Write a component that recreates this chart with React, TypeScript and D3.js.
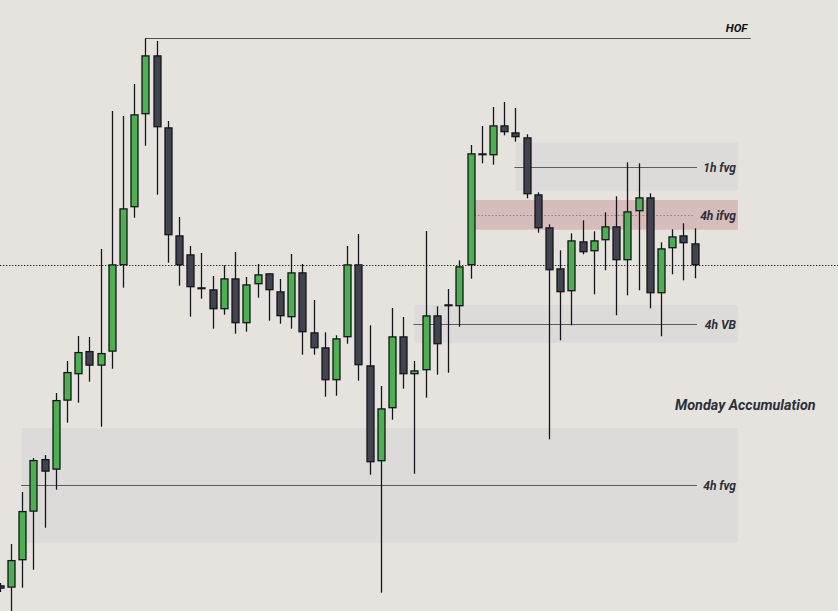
import React from "react";
import * as d3 from "d3";

// OHLC candles (index -1 is partially visible at the left edge)
const startIndex = -1;
const opens = [64147,64123,64397,64883,65410,65303,65993,66257,66490,66343,66483,67347,67927,68857,69447,68727,67647,67457,67127,67107,66907,67217,66767,67157,67267,67087,66827,67277,66677,66527,66197,66627,67357,66347,65387,65917,66637,66257,66297,66847,66957,66937,67347,68467,68447,68747,68677,68627,68057,67727,67317,67087,67587,67487,67597,67737,67397,67887,68027,67067,67517,67647,67567];
const highs = [64170,64560,65080,65420,65450,66070,66390,66640,66630,67510,68890,68840,69160,69617,69590,68790,67830,67540,67470,67240,67347,67480,67230,67360,67267,67210,67460,67360,67000,66677,66647,67540,67660,66747,66140,66920,66830,66390,67690,66937,67110,67397,68550,68740,68930,68980,68920,68657,68077,67757,67497,67667,67797,67687,67877,68037,68377,68367,68067,67577,67707,67767,67717];
const lows = [64080,63850,64123,64303,64723,65103,65773,65973,66183,65733,66313,67123,67823,68543,68053,67373,67143,66833,67013,66713,66853,66663,66683,67023,66793,66763,66713,66453,66453,66033,66043,66563,66193,65253,64073,65803,66113,65263,66023,66253,66273,66733,67213,68367,68353,68647,68583,68017,67673,65607,66597,66747,67457,67057,67297,66847,67047,67097,66917,66637,67257,67197,67217];
const closes = [64113,64400,64890,65400,65283,66000,66280,66480,66343,66470,67357,67917,68857,69447,68727,67647,67347,67127,67127,66907,67217,66767,67157,67257,67097,66837,67277,66677,66517,66197,66617,67357,66347,65377,65917,66637,66257,66297,66847,66557,66937,67337,68467,68447,68747,68677,68627,68057,67717,67297,67077,67597,67477,67597,67737,67397,67887,68027,67067,67517,67637,67567,67347];

// Reference levels
const hofLevel = 69617;
const hofStart = 12;
const hofEnd = 66;
const midLevel = 67347;

// Zones: label, top, bottom, mid, start index
const zoneLabels = ["1h fvg", "4h ifvg", "4h VB", "4h fvg"];
const zoneTops = [68573, 68000, 66950, 65720];
const zoneBottoms = [68093, 67703, 66573, 64573];
const zoneMids = [68327, 67847, 66757, 65150];
const zoneStarts = [45, 41.35, 36, 1];
const zoneEnd = 64.85;
const zoneLineEnd = [61.2, 61.0, 61.2, 61.2];

const W = 838;
const H = 611;

export default function App() {
  const x = d3.scaleLinear().domain([0, 61]).range([10.9, 694.7]);
  const y = d3.scaleLinear().domain([63890, 70000]).range([611, 0]);
  const candles = opens.map((o, k) => ({
    i: startIndex + k,
    o,
    h: highs[k],
    l: lows[k],
    c: closes[k],
  }));
  const bodyW = 7;
  const green = "#4caf50";
  const dark = "#41434e";
  const font = "Roboto, 'Noto Sans', sans-serif";
  const zoneFill = ["#dcdbd9", "#d6bdbb", "#dcdbd9", "#dcdbd9"];
  return (
    <svg
      width={W}
      height={H}
      style={{ position: "fixed", left: 0, top: 0, background: "#e6e3df" }}
    >
      <rect x={0} y={0} width={W} height={H} fill="#e6e3df" />
      {zoneLabels.map((lab, z) => (
        <rect
          key={"zb" + z}
          x={x(zoneStarts[z])}
          y={y(zoneTops[z])}
          width={x(zoneEnd) - x(zoneStarts[z])}
          height={y(zoneBottoms[z]) - y(zoneTops[z])}
          fill={zoneFill[z]}
        />
      ))}
      {zoneLabels.map((lab, z) => (
        <line
          key={"zl" + z}
          x1={x(zoneStarts[z]) - (z === 1 ? 0 : 1)}
          x2={x(zoneLineEnd[z])}
          y1={Math.round(y(zoneMids[z])) + 0.5}
          y2={Math.round(y(zoneMids[z])) + 0.5}
          stroke={z === 1 ? "#8d7f7f" : "#5c5c64"}
          strokeWidth={1}
          strokeDasharray={z === 1 ? "1.5 2" : undefined}
        />
      ))}
      {zoneLabels.map((lab, z) => (
        <text
          key={"zt" + z}
          x={736}
          y={y(zoneMids[z]) + 4.5}
          textAnchor="end"
          fontFamily={font}
          fontWeight="bold"
          fontStyle="italic"
          fontSize={12}
          fill="#2e2f38"
        >
          {lab}
        </text>
      ))}
      <line
        x1={0}
        x2={W}
        y1={Math.round(y(midLevel)) + 0.5}
        y2={Math.round(y(midLevel)) + 0.5}
        stroke="#2a2a30"
        strokeWidth={1}
        strokeDasharray="1.4 1.6"
      />
      <line
        x1={x(hofStart)}
        x2={x(hofEnd)}
        y1={Math.round(y(hofLevel)) + 0.5}
        y2={Math.round(y(hofLevel)) + 0.5}
        stroke="#505050"
        strokeWidth={1.2}
      />
      <text
        x={747.5}
        y={32.3}
        textAnchor="end"
        fontFamily={font}
        fontWeight="bold"
        fontStyle="italic"
        fontSize={11.5}
        fill="#111"
      >
        HOF
      </text>
      <text
        x={675}
        y={409.5}
        fontFamily={font}
        fontWeight="bold"
        fontStyle="italic"
        fontSize={14.4}
        fill="#2d2f3a"
      >
        Monday Accumulation
      </text>
      {candles.map((d) => {
        const cx = Math.round(x(d.i)) + 0.5;
        const top = y(Math.max(d.o, d.c));
        const bot = y(Math.min(d.o, d.c));
        const up = d.c > d.o;
        return (
          <g key={"c" + d.i}>
            <line
              x1={cx}
              x2={cx}
              y1={y(d.h)}
              y2={y(d.l)}
              stroke="#15151b"
              strokeWidth={1.3}
            />
            <rect
              x={cx - bodyW / 2}
              y={top + 0.6}
              width={bodyW}
              height={Math.max(bot - top - 1.2, 0.8)}
              fill={up ? green : dark}
              stroke="#15151b"
              strokeWidth={1.3}
            />
          </g>
        );
      })}
    </svg>
  );
}
